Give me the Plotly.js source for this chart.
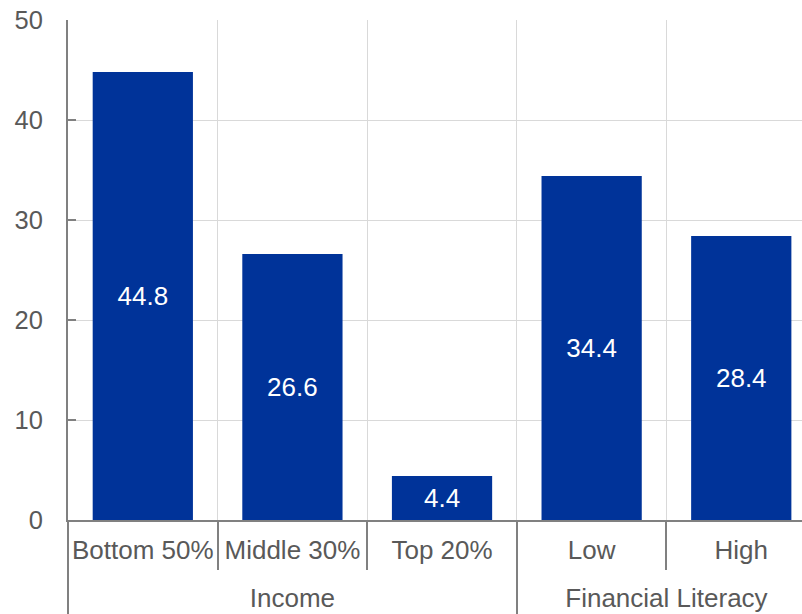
<!DOCTYPE html>
<html>
<head>
<meta charset="utf-8">
<script src="https://cdn.plot.ly/plotly-3.0.1.min.js"></script>
<style>
  html, body { margin: 0; padding: 0; background: #fff; }
  #chart { width: 802px; height: 614px; }
</style>
</head>
<body>
<div id="chart"></div>
<script>
// Share of respondents by group (%)
const groups = ["Income", "Income", "Income", "Financial Literacy", "Financial Literacy"];
const categories = ["Bottom 50%", "Middle 30%", "Top 20%", "Low", "High"];
const values = [44.8, 26.6, 4.4, 34.4, 28.4];
const yTicks = [0, 10, 20, 30, 40, 50];

const FONT = "Liberation Sans, Arial, sans-serif";
const GREY_TEXT = "#595959";
const AXIS_GREY = "#808080";

// Group spans in category-index space: centres carry the group label,
// edges carry the long divider ticks.
const groupNames = [];
const groupMembers = [];
const groupEdges = [];
groups.forEach((g, i) => {
  if (i === 0 || groups[i - 1] !== g) {
    groupNames.push(g);
    groupEdges.push(i - 0.5);
    groupMembers.push([i]);
  } else {
    groupMembers[groupMembers.length - 1].push(i);
  }
});
const groupMid = groupMembers.map(ix => (ix[0] + ix[ix.length - 1]) / 2);

const xRange = [-0.5, 4.406];

const bars = {
  type: "bar",
  x: categories,
  y: values,
  text: values.map(v => v.toFixed(1)),
  textposition: "inside",
  insidetextanchor: "middle",
  textangle: 0,
  textfont: { family: FONT, size: 26, color: "#ffffff" },
  marker: { color: "#003399", line: { width: 0 } },
  hoverinfo: "skip",
  cliponaxis: false
};

// Carrier for the group axis (draws nothing itself)
const groupAxisCarrier = {
  type: "scatter",
  mode: "none",
  x: groupMid,
  y: groupMid.map(() => 0),
  xaxis: "x2",
  yaxis: "y",
  hoverinfo: "skip",
  showlegend: false
};

const layout = {
  width: 802,
  height: 614,
  margin: { l: 68, r: 0, t: 20, b: 94, pad: 0 },
  paper_bgcolor: "#ffffff",
  plot_bgcolor: "#ffffff",
  showlegend: false,
  bargap: 0.33,
  font: { family: FONT, size: 26, color: GREY_TEXT },
  xaxis: {
    type: "category",
    range: xRange,
    automargin: false,
    showline: true,
    linecolor: AXIS_GREY,
    linewidth: 2,
    showgrid: true,
    gridcolor: "#d9d9d9",
    gridwidth: 1,
    ticks: "outside",
    tickson: "boundaries",
    ticklen: 48,
    tickwidth: 2,
    tickcolor: AXIS_GREY,
    tickangle: 0,
    ticklabelstandoff: 6,
    tickfont: { family: FONT, size: 26, color: GREY_TEXT },
    zeroline: false,
    fixedrange: true
  },
  xaxis2: {
    type: "linear",
    overlaying: "x",
    anchor: "y",
    side: "bottom",
    range: xRange,
    automargin: false,
    showline: false,
    showgrid: false,
    zeroline: false,
    tickmode: "array",
    tickvals: groupMid,
    ticktext: groupNames,
    ticks: "",
    tickangle: 0,
    ticklabelstandoff: 60,
    tickfont: { family: FONT, size: 26, color: GREY_TEXT },
    minor: {
      tickmode: "array",
      tickvals: groupEdges,
      ticks: "outside",
      ticklen: 94,
      tickwidth: 2,
      tickcolor: AXIS_GREY,
      showgrid: false
    },
    fixedrange: true
  },
  yaxis: {
    range: [0, 50],
    tickvals: yTicks,
    ticktext: yTicks.map(String),
    automargin: false,
    showline: true,
    linecolor: AXIS_GREY,
    linewidth: 2,
    showgrid: true,
    gridcolor: "#d9d9d9",
    gridwidth: 1,
    ticks: "inside",
    ticklen: 8,
    tickwidth: 2,
    tickcolor: AXIS_GREY,
    ticklabelstandoff: 18,
    tickfont: { family: FONT, size: 25.5, color: GREY_TEXT },
    zeroline: false,
    fixedrange: true
  }
};

Plotly.newPlot("chart", [bars, groupAxisCarrier], layout, { staticPlot: true, displayModeBar: false });
</script>
</body>
</html>
